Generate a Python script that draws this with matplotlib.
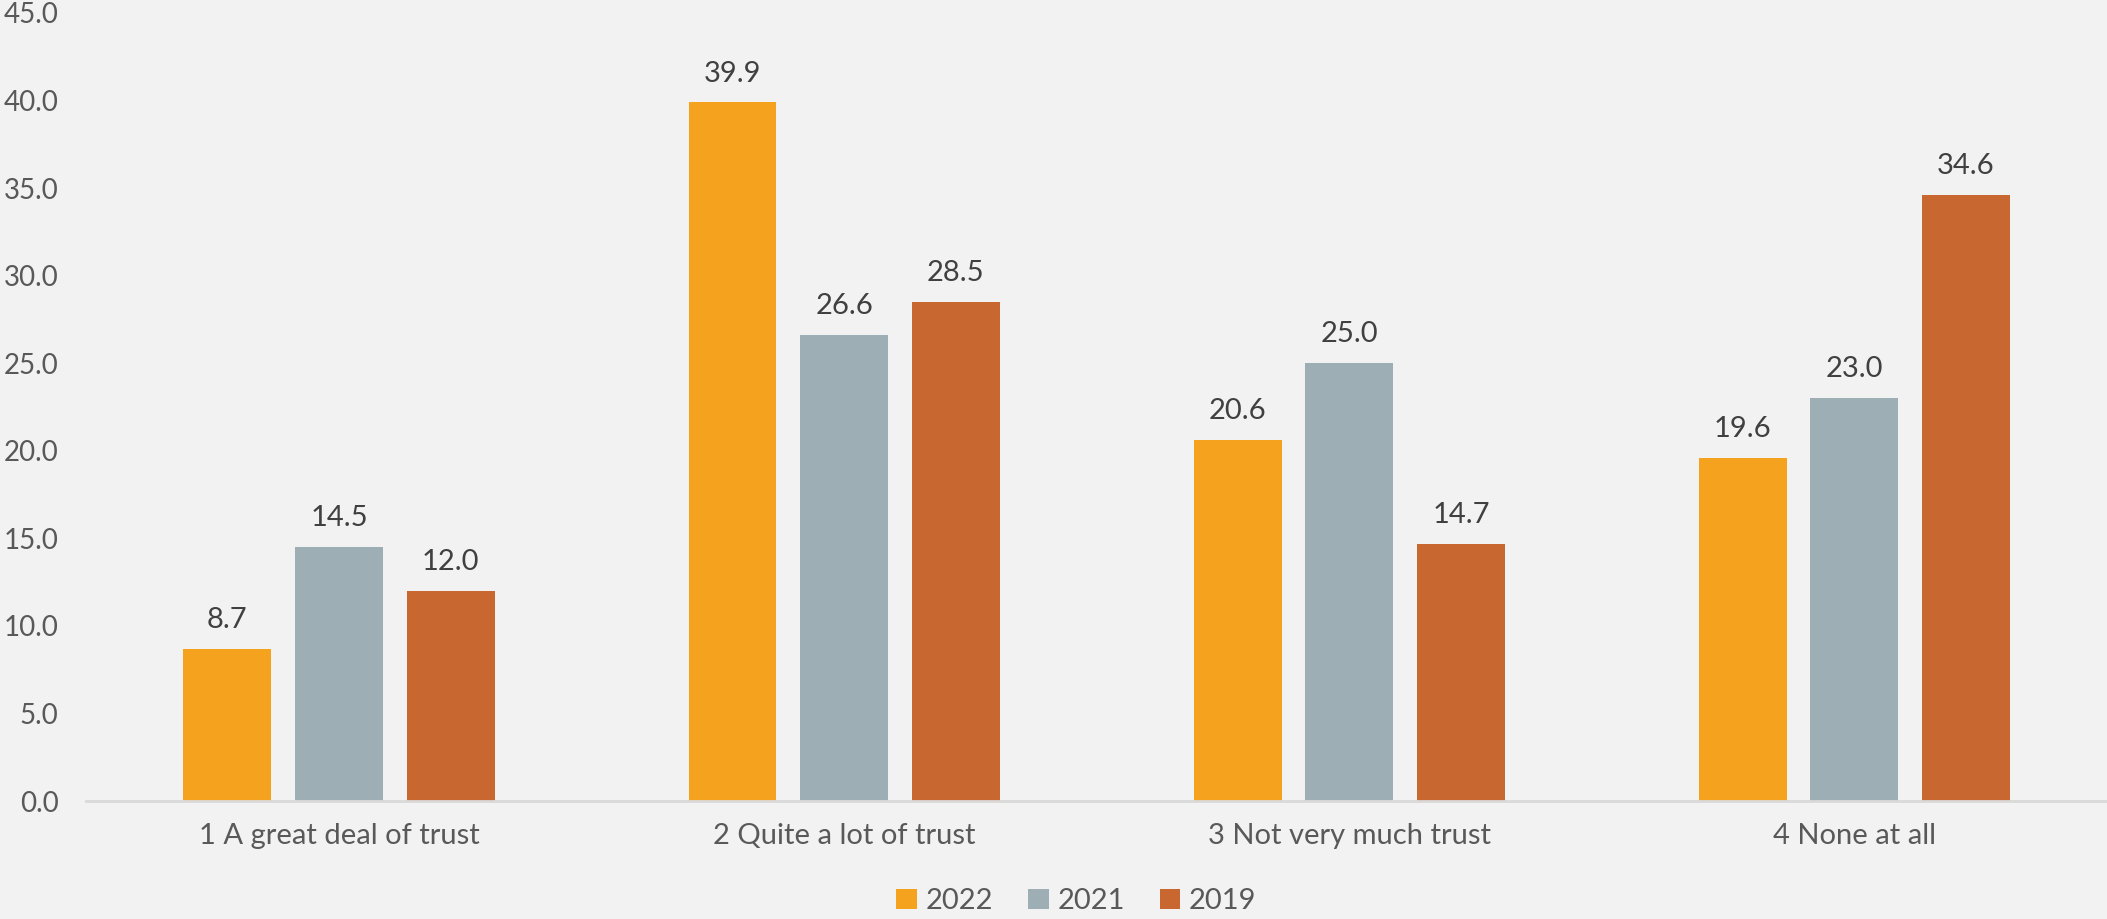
import numpy as np
import matplotlib.pyplot as plt

# ==========================================================
# Data
# ==========================================================

categories = ["1 A great deal of trust", "2 Quite a lot of trust",
              "3 Not very much trust", "4 None at all"]
years      = ["2022", "2021", "2019"]
vals_2022  = [8.7, 39.9, 20.6, 19.6]
vals_2021  = [14.5, 26.6, 25.0, 23.0]
vals_2019  = [12.0, 28.5, 14.7, 34.6]
yticks     = np.arange(0, 50, 5)

colors = ["#F5A31F", "#9DAFB5", "#C96731"]
BG     = "#F2F2F2"

plt.rcParams['font.family'] = ['Lato', 'DejaVu Sans']

fig = plt.figure(figsize=(21.07, 9.19), dpi=100, facecolor=BG)
ax = fig.add_axes([0.041, 0.1284, 0.959, 0.8575], facecolor=BG)

x     = np.arange(len(categories))
width = 0.174
step  = 0.221

for i, (yr, vals) in enumerate(zip(years, [vals_2022, vals_2021, vals_2019])):
    bars = ax.bar(x + (i - 1) * step, vals, width=width, color=colors[i], label=yr)
    for b, v in zip(bars, vals):
        ax.text(b.get_x() + b.get_width() / 2, v + 0.9, f"{v:.1f}",
                ha="center", va="bottom", fontsize=21, color="#404040")

ax.set_xlim(-0.5, len(categories) - 0.5)
ax.set_ylim(0, 45)
ax.set_yticks(yticks)
ax.set_yticklabels([f"{t:.1f}" for t in yticks])
ax.set_xticks(x)
ax.set_xticklabels(categories)
ax.tick_params(axis="y", length=0, pad=20, labelsize=20, labelcolor="#595959")
ax.tick_params(axis="x", length=0, pad=16, labelsize=21, labelcolor="#595959")

for s in ["top", "right", "left"]:
    ax.spines[s].set_visible(False)
ax.spines["bottom"].set_color("#D9D9D9")
ax.spines["bottom"].set_linewidth(2)

ax.legend(loc="center", bbox_to_anchor=(0.49, -0.127), ncol=3, frameon=False,
          fontsize=21, labelcolor="#595959", handlelength=0.7, handleheight=0.7,
          handletextpad=0.3, columnspacing=1.2)

plt.savefig("out.png", dpi=100, facecolor=BG)
